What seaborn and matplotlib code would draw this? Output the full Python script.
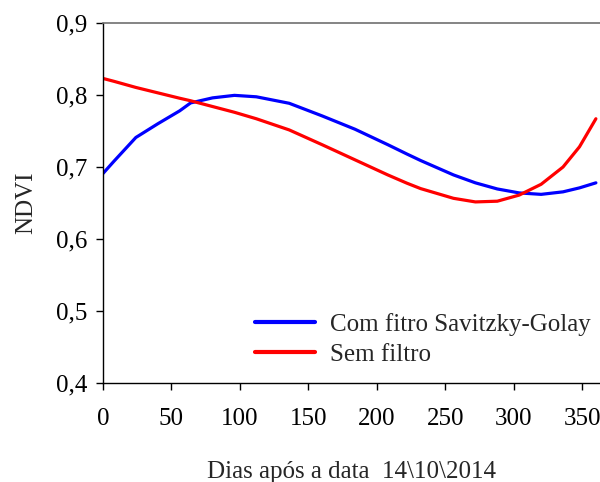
import numpy as np
import pandas as pd
import matplotlib
matplotlib.use("Agg")
import matplotlib.pyplot as plt
import seaborn as sns

days = [0, 8, 24, 40, 56, 64, 80, 96, 112, 136, 160, 184, 208, 222, 232, 256, 272, 288, 304, 320, 336, 348, 360]
com_filtro = [0.691, 0.708, 0.741, 0.760, 0.778, 0.789, 0.796, 0.7995, 0.7975, 0.7885, 0.771, 0.7525, 0.731, 0.718,
              0.709, 0.689, 0.678, 0.6695, 0.664, 0.662, 0.6655, 0.671, 0.678]
sem_filtro = [0.823, 0.819, 0.8105, 0.803, 0.7955, 0.792, 0.784, 0.776, 0.767, 0.7515, 0.731, 0.710, 0.689, 0.6775,
              0.670, 0.6565, 0.6515, 0.6525, 0.661, 0.676, 0.700, 0.728, 0.767]
series_names = ["Com fitro Savitzky-Golay", "Sem filtro"]
x_ticks = [0, 50, 100, 150, 200, 250, 300, 350]
y_ticks = [0.4, 0.5, 0.6, 0.7, 0.8, 0.9]
y_tick_labels = ["0,4", "0,5", "0,6", "0,7", "0,8", "0,9"]

df = pd.DataFrame({
    "dia": days * 2,
    "ndvi": com_filtro + sem_filtro,
    "serie": [series_names[0]] * len(days) + [series_names[1]] * len(days),
})

sns.set_style("white")
plt.rcParams["font.family"] = ["Liberation Serif", "DejaVu Serif"]

fig = plt.figure(figsize=(6.0, 4.82), dpi=100)
ax = fig.add_axes([103 / 600, 1 - 383 / 482, 1 - 103 / 600, (383 - 23) / 482])

sns.lineplot(data=df, x="dia", y="ndvi", hue="serie", hue_order=series_names,
             palette={series_names[0]: "#0000ff", series_names[1]: "#ff0000"},
             linewidth=2.3, ax=ax, legend=True, sort=False)

ax.set_xlim(0, 363)
ax.set_ylim(0.4, 0.9)
ax.set_xticks(x_ticks)
ax.set_xticklabels([str(t) for t in x_ticks])
ax.set_yticks(y_ticks)
ax.set_yticklabels(y_tick_labels)
ax.tick_params(axis="both", direction="out", length=5, width=1, colors="black",
               labelsize=18, left=True, bottom=True)
ax.tick_params(axis="y", pad=6)
ax.tick_params(axis="x", pad=13)

for s in ["left", "bottom"]:
    ax.spines[s].set_color("black")
    ax.spines[s].set_linewidth(1.0)
ax.spines["right"].set_visible(False)
ax.spines["top"].set_color("#707070")
ax.spines["top"].set_linewidth(1.2)

ax.set_xlabel("Dias após a data  14\\10\\2014", fontsize=18, labelpad=22)
ax.set_ylabel("NDVI", fontsize=18, labelpad=14)

leg = ax.legend(loc="lower left", bbox_to_anchor=(0.285, 0.02), frameon=False,
                fontsize=18, handlelength=2.4, handletextpad=0.6, labelspacing=0.3,
                borderaxespad=0)
for line in leg.get_lines():
    line.set_linewidth(3)

fig.savefig("out.png", dpi=100)
